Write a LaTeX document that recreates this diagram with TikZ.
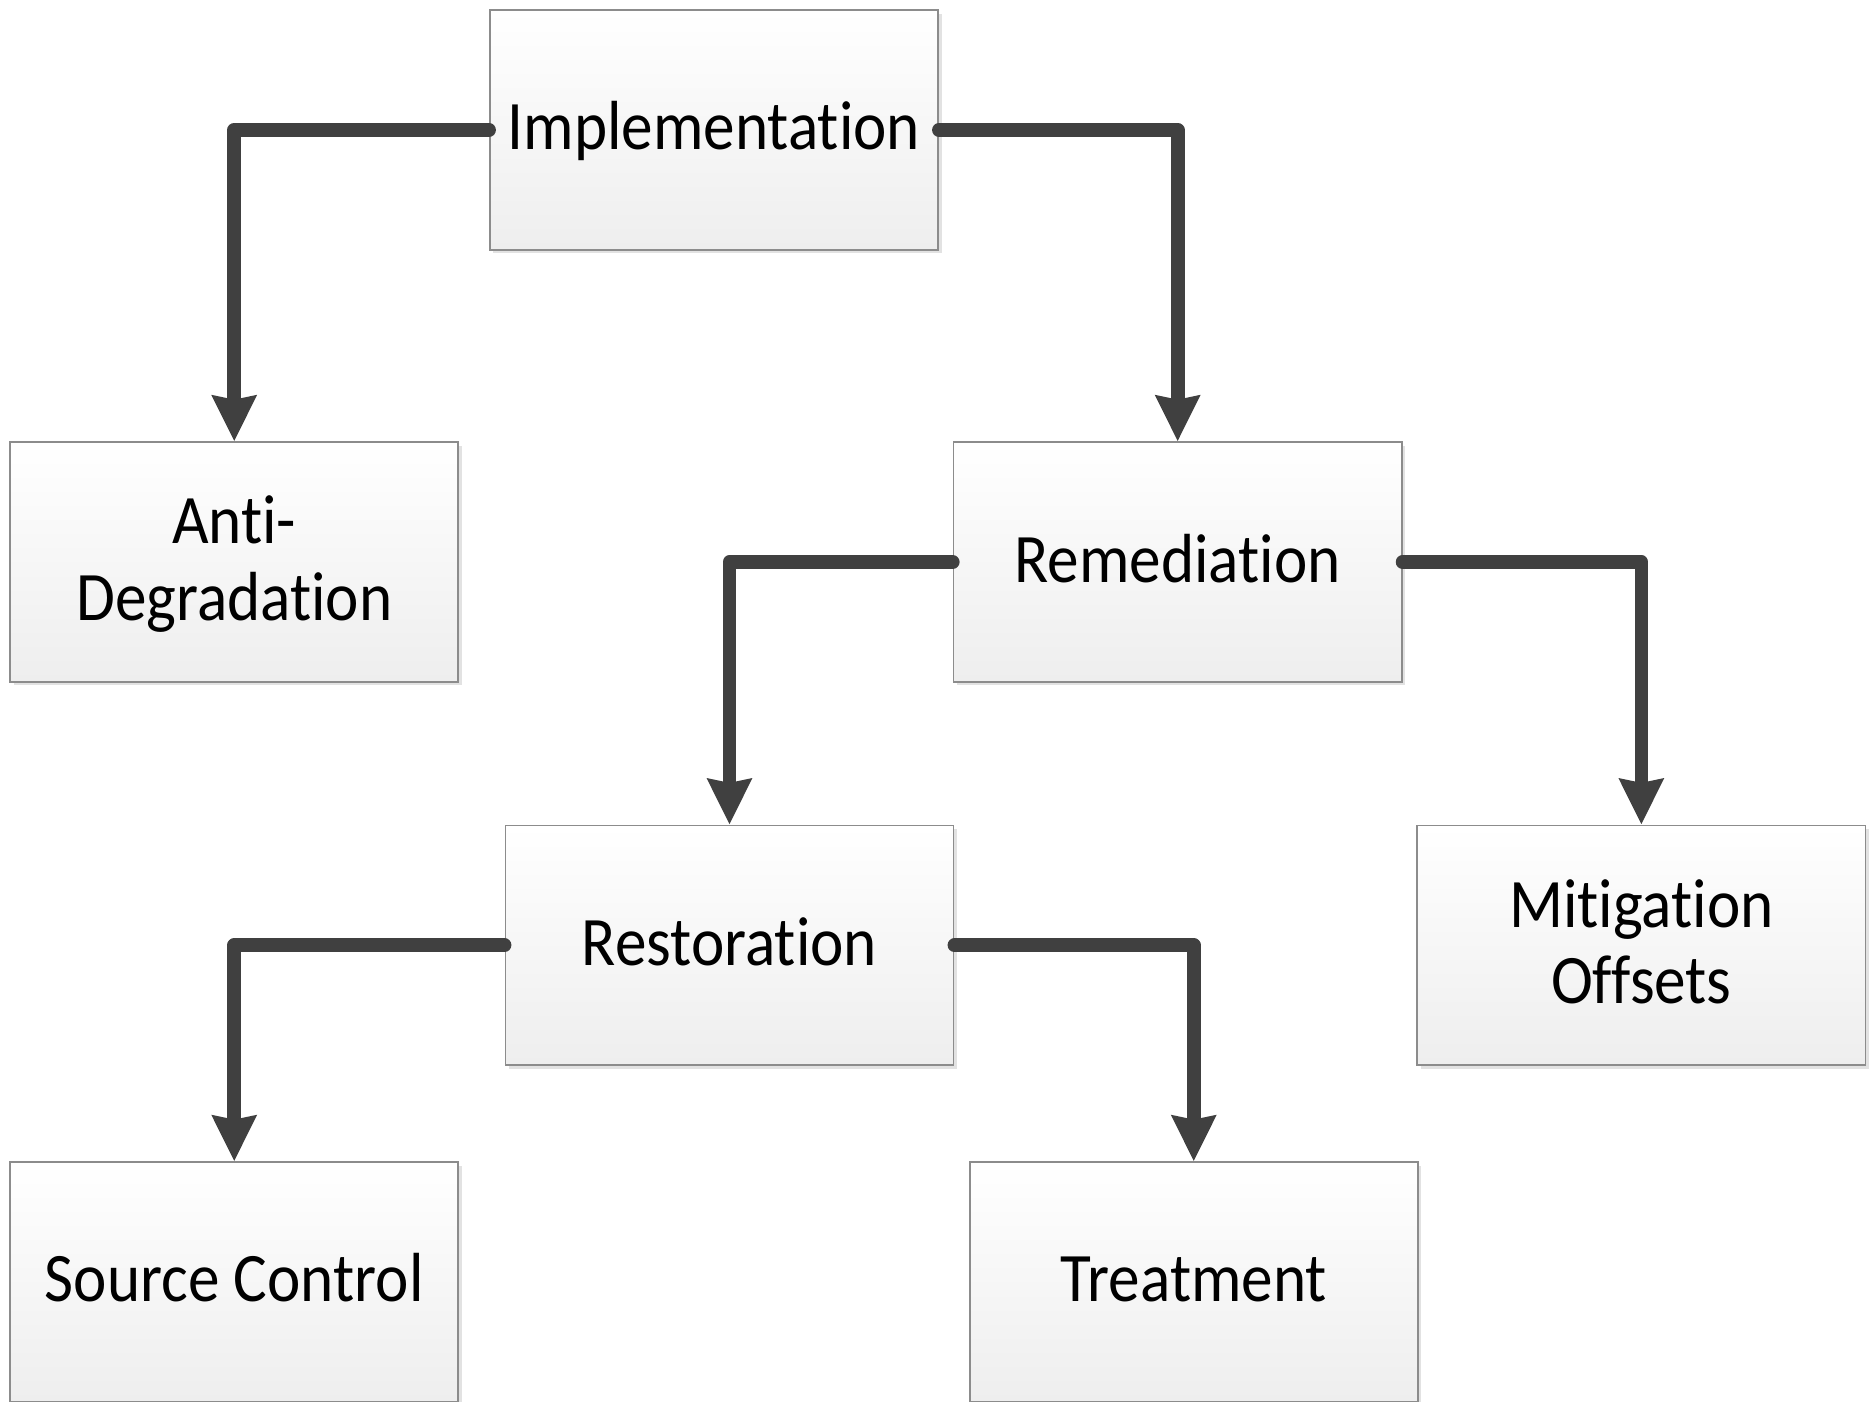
\documentclass[tikz,border=0pt]{standalone}
\usepackage{fontspec}
\setmainfont{Carlito}[Ligatures={NoCommon,NoContextual,NoRare,NoDiscretionary},RawFeature={-liga;-clig;-dlig;-calt}]
\usetikzlibrary{arrows.meta,shadows}
\definecolor{conn}{HTML}{404040}
\definecolor{boxedge}{HTML}{8C8C8C}
\definecolor{boxbot}{HTML}{EEEEEE}
\definecolor{shade}{HTML}{E2E2E2}
\newcommand{\lbl}[1]{\raisebox{-4pt}[\height][\depth]{\scalebox{1}[1.1]{\begin{tabular}{@{}c@{}}#1\end{tabular}}}}
\tikzset{
  box/.style={rectangle, draw=boxedge, line width=1.4pt, top color=white, bottom color=boxbot,
    minimum width=376pt, minimum height=201pt, inner sep=0pt,
    font=\fontsize{53}{58}\selectfont,
    drop shadow={shadow xshift=3pt, shadow yshift=-3pt, fill=shade, opacity=1}},
  link/.style={draw=conn, line width=11.5pt, line cap=round, line join=round,
    -{Stealth[length=38pt, width=36pt, inset=3pt]}}
}
\begin{document}
\begin{tikzpicture}[x=1pt,y=-1pt]
\useasboundingbox (0,0) rectangle (1568,1176);
\node[box] (impl) at (599,109) {\lbl{Implementation}};
\node[box] (anti) at (196.5,471.5) {\lbl{Anti-\\Degradation}};
\node[box] (reme) at (988,471.5) {\lbl{Remediation}};
\node[box] (rest) at (612,793) {\lbl{Restoration}};
\node[box] (miti) at (1377,793) {\lbl{Mitigation\\Offsets}};
\node[box] (src) at (196.5,1075.5) {\lbl{Source Control}};
\node[box] (trea) at (1001.5,1075.5) {\lbl{Treatment}};
\draw[link] (impl.west) -| (anti.north);
\draw[link] (impl.east) -| (reme.north);
\draw[link] (reme.west) -| (rest.north);
\draw[link] (reme.east) -| (miti.north);
\draw[link] (rest.west) -| (src.north);
\draw[link] (rest.east) -| (trea.north);
\end{tikzpicture}
\end{document}
